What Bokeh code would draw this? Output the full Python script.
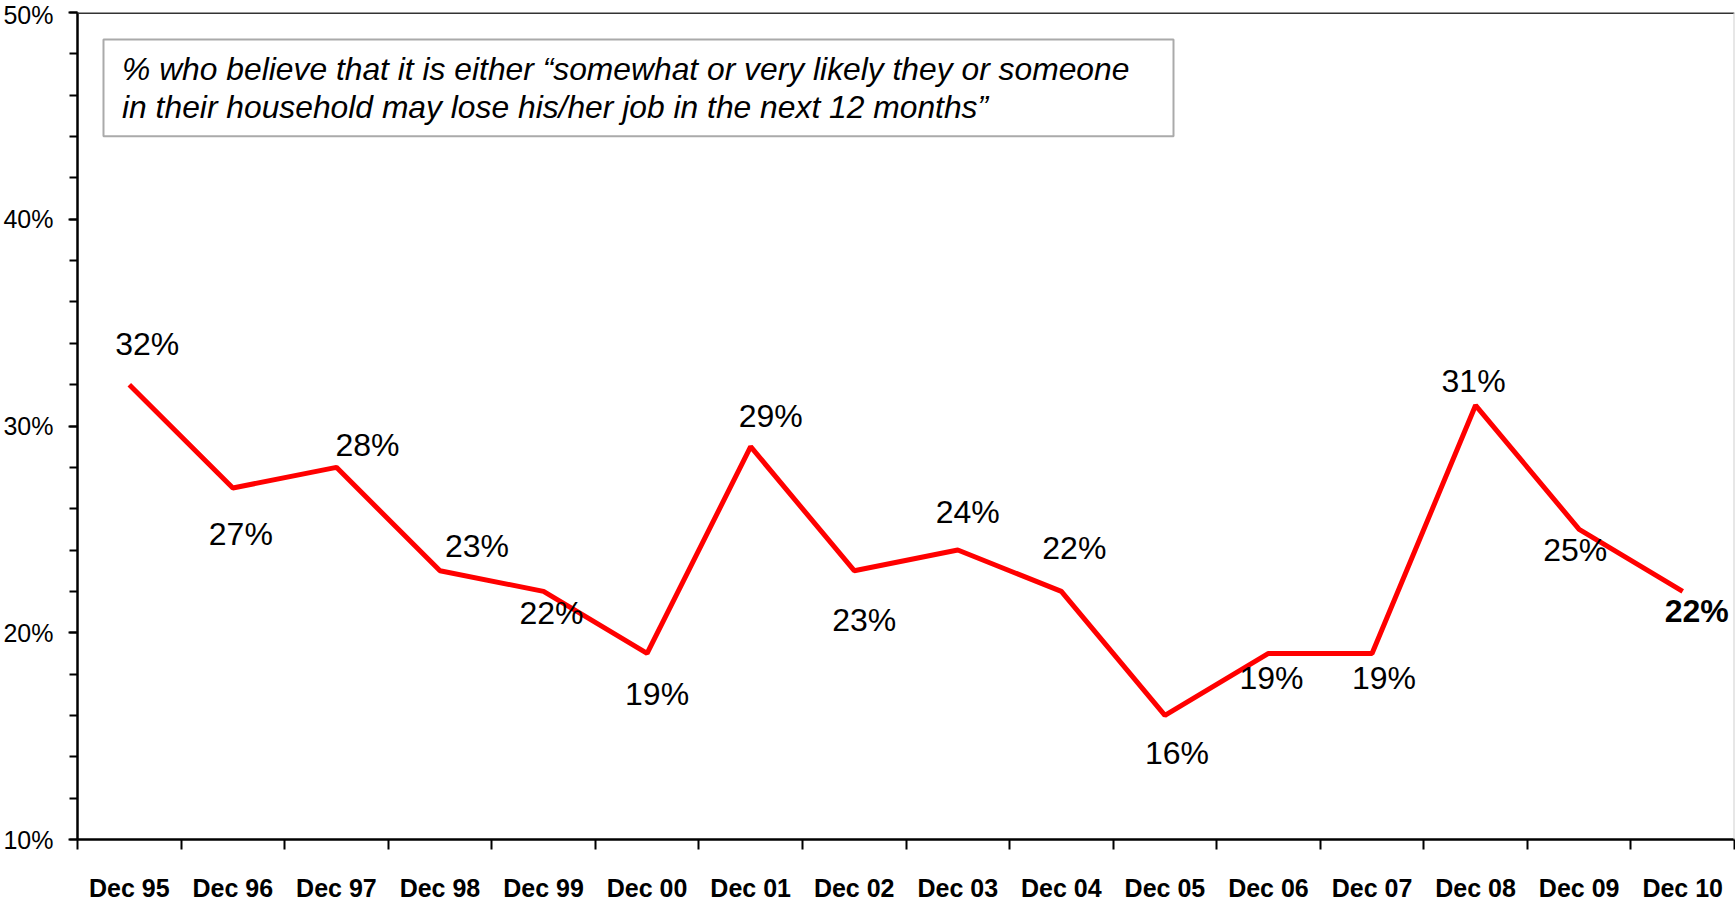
from bokeh.plotting import figure
from bokeh.models import (ColumnDataSource, FixedTicker, CustomJSTickFormatter, Range1d,
                          Span, BoxAnnotation, Label)
from bokeh.embed import file_html
from bokeh.resources import INLINE
from bokeh.core.properties import value

# ---- data ----
categories = ["Dec 95", "Dec 96", "Dec 97", "Dec 98", "Dec 99", "Dec 00", "Dec 01", "Dec 02",
              "Dec 03", "Dec 04", "Dec 05", "Dec 06", "Dec 07", "Dec 08", "Dec 09", "Dec 10"]
values = [32, 27, 28, 23, 22, 19, 29, 23, 24, 22, 16, 19, 19, 31, 25, 22]
y_ticks = [10, 20, 30, 40, 50]
y_tick_labels = ["10%", "20%", "30%", "40%", "50%"]
note_lines = ["% who believe that it is either \u201csomewhat or very likely they or someone",
              "in their household may lose his/her job in the next 12 months\u201d"]

# ---- label placement (pixels) and styles ----
label_dx = [18, 8, 31, 37, 8, 10, 20, 10, 10, 13, 12, 3, 12, -2, -4, 14]
label_dy = [-41, 46, -22, -25, 22, 41, -31, 49, -38, -43, 38, 25, 25, -24, 21, 20]
label_style = ["normal"] * 15 + ["bold"]

n = len(categories)
xs = [i + 0.5 for i in range(n)]
src = ColumnDataSource(dict(
    x=xs, y=values, txt=[f"{v}%" for v in values],
    dx=label_dx, dy=label_dy, st=label_style))

p = figure(width=1735, height=904, output_backend="svg", toolbar_location=None,
           x_range=Range1d(0, n), y_range=Range1d(10, 50),
           min_border_left=77, min_border_right=1, min_border_top=12, min_border_bottom=64)
p.outline_line_color = None
p.xgrid.visible = False
p.ygrid.visible = False
p.background_fill_color = "white"
p.border_fill_color = "white"

# x axis: labels at category centres, tick marks at boundaries
p.xaxis.ticker = FixedTicker(ticks=xs, minor_ticks=list(range(n + 1)))
p.xaxis.formatter = CustomJSTickFormatter(args=dict(cat_labels=categories),
                                          code="return cat_labels[Math.floor(tick)];")
p.xaxis.major_tick_out = 0
p.xaxis.major_tick_in = 0
p.xaxis.minor_tick_out = 10
p.xaxis.minor_tick_in = 0
p.xaxis.minor_tick_line_width = 2
p.xaxis.minor_tick_line_color = "black"
p.xaxis.axis_line_width = 2.5
p.xaxis.axis_line_color = "black"
p.xaxis.major_label_text_font = "Liberation Sans"
p.xaxis.major_label_text_font_style = "bold"
p.xaxis.major_label_text_font_size = "25px"
p.xaxis.major_label_text_color = "black"
p.xaxis.major_label_standoff = 24

# y axis
p.yaxis.ticker = FixedTicker(ticks=y_ticks, minor_ticks=list(range(10, 51, 2)))
p.yaxis.formatter = CustomJSTickFormatter(args=dict(yt=y_ticks, ylab=y_tick_labels),
                                          code="return ylab[yt.indexOf(Math.round(tick))];")
p.yaxis.major_tick_out = 9
p.yaxis.major_tick_in = 0
p.yaxis.minor_tick_out = 8
p.yaxis.minor_tick_in = 0
p.yaxis.major_tick_line_width = 2
p.yaxis.minor_tick_line_width = 2
p.yaxis.axis_line_width = 2.5
p.yaxis.axis_line_color = "black"
p.yaxis.major_label_text_font = "Liberation Sans"
p.yaxis.major_label_text_font_size = "25px"
p.yaxis.major_label_text_color = "black"
p.yaxis.major_label_standoff = 15

# top border and faint right border
p.add_layout(Span(location=50, dimension="width", line_color="#333333", line_width=3))
p.add_layout(Span(location=n, dimension="height", line_color="#d0d0d0", line_width=2))

# note box
p.add_layout(BoxAnnotation(left=0.251, right=10.583, top=48.70, bottom=44.01,
                           fill_color="white", fill_alpha=1.0,
                           line_color="#aaaaaa", line_alpha=1.0, line_width=2))
for yy, t in zip([47.25, 45.41], note_lines):
    p.add_layout(Label(x=0.43, y=yy, text=t, text_font="Liberation Sans",
                       text_font_style="italic", text_font_size="31.8px",
                       text_baseline="middle", text_align="left", text_color="black"))

# line
p.line("x", "y", source=src, line_color="#ff0000", line_width=5)

# data labels
p.text("x", "y", text="txt", source=src, x_offset="dx", y_offset="dy",
       text_font=value("Liberation Sans"), text_font_size="32px",
       text_font_style="st", text_align="center", text_baseline="middle",
       text_color="black")

open("out.html", "w").write(file_html(p, INLINE))
